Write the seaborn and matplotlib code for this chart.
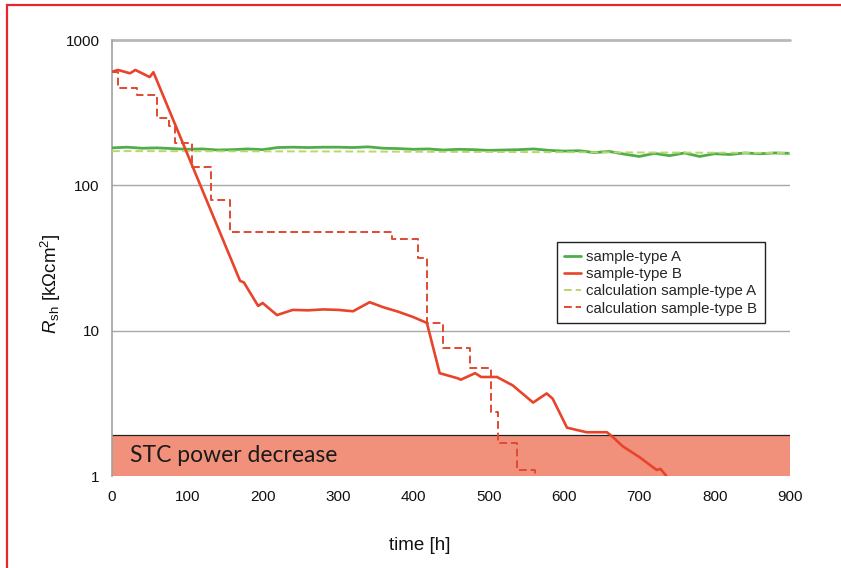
import matplotlib
matplotlib.use("Agg")
import matplotlib.pyplot as plt
import matplotlib.patches as mpatches
import numpy as np
import pandas as pd
import seaborn as sns

# ---------------- data ----------------
a_hours = [0, 20, 40, 60, 80, 100, 120, 140, 160, 180, 200, 220, 240, 260, 280, 300,
           320, 340, 360, 380, 400, 420, 440, 460, 480, 500, 520, 540, 560, 580, 600,
           620, 640, 660, 680, 700, 720, 740, 760, 780, 800, 820, 840, 860, 880, 900]
a_meas = [181, 183, 180, 181, 179, 177, 178, 175, 176, 178, 176, 182, 183, 182, 183, 183,
          182, 184, 180, 179, 177, 178, 175, 177, 176, 174, 175, 176, 178, 174, 172,
          173, 168, 171, 164, 158, 166, 160, 167, 158, 165, 163, 167, 165, 167, 166]

a_calc_hours = [0, 300, 600, 900]
a_calc = [172, 171, 169, 167]

b_hours = [0, 8, 24, 31, 50, 55, 170, 175, 194, 200, 219, 240, 260, 280, 300, 320,
           342, 360, 380, 400, 418, 435, 459, 463, 482, 490, 511, 532, 559, 577, 585,
           604, 630, 657, 665, 678, 700, 723, 728, 736]
b_meas = [605, 622, 590, 622, 556, 600, 22, 21.5, 14.8, 15.5, 12.8, 13.9, 13.8, 14.0,
          13.9, 13.6, 15.7, 14.5, 13.5, 12.4, 11.3, 5.1, 4.7, 4.6, 5.1, 4.8, 4.8, 4.2,
          3.2, 3.7, 3.4, 2.15, 2.0, 2.0, 1.85, 1.6, 1.35, 1.1, 1.12, 1.0]

b_calc_hours = [0, 8, 33, 60, 75, 83, 106, 132, 156, 372, 406, 418, 440, 475, 503,
                513, 538, 562]
b_calc = [600, 468, 418, 290, 258, 196, 134, 79, 47.7, 42.8, 31.6, 11.3, 7.6, 5.5,
          2.75, 1.7, 1.1, 1.0]

stc_limit = 1.9
x_ticks = [0, 100, 200, 300, 400, 500, 600, 700, 800, 900]
y_ticks = [1, 10, 100, 1000]
y_ticklabels = ["1", "10", "100", "1000"]

labels = ["sample-type A", "sample-type B",
          "calculation sample-type A", "calculation sample-type B"]

# ---------------- style ----------------
sns.set_style("white")
plt.rcParams["font.family"] = ["Liberation Sans", "DejaVu Sans"]
plt.rcParams["mathtext.fontset"] = "custom"
plt.rcParams["mathtext.rm"] = "Liberation Sans"
plt.rcParams["mathtext.it"] = "Liberation Sans:italic"

fig = plt.figure(figsize=(8.41, 5.68), dpi=100)
ax = fig.add_axes([112 / 841, 1 - 476 / 568, 678 / 841, 436 / 568])

green = "#4fae4a"
green_calc = "#b9d76c"
red = "#e8442b"
red_calc = "#e04a33"

dfA = pd.DataFrame({"t": a_hours, "r": a_meas})
dfAc = pd.DataFrame({"t": a_calc_hours, "r": a_calc})
dfB = pd.DataFrame({"t": b_hours, "r": b_meas})
dfBc = pd.DataFrame({"t": b_calc_hours, "r": b_calc})

sns.lineplot(data=dfA, x="t", y="r", ax=ax, color=green, lw=2.0, zorder=4,
             label=labels[0], estimator=None, sort=False)
sns.lineplot(data=dfB, x="t", y="r", ax=ax, color=red, lw=1.9, zorder=5,
             label=labels[1], estimator=None, sort=False)
sns.lineplot(data=dfAc, x="t", y="r", ax=ax, color=green_calc, lw=1.4, zorder=4.5,
             label=labels[2], estimator=None, sort=False, linestyle=(0, (4, 2)))
sns.lineplot(data=dfBc, x="t", y="r", ax=ax, color=red_calc, lw=1.4, zorder=5,
             label=labels[3], estimator=None, sort=False, linestyle=(0, (4, 2)),
             drawstyle="steps-post")

ax.set_yscale("log")
ax.set_xlim(0, 900)
ax.set_ylim(1, 1000)

# STC region
ax.axhspan(1, stc_limit, color="#f2917b", zorder=1, lw=0)
ax.axhline(stc_limit, color="#222222", lw=0.9, zorder=2)
ax.text(24, np.sqrt(stc_limit), "STC power decrease", fontsize=16.5,
        family=["Lato", "DejaVu Sans"], va="center", ha="left", color="#1a1a1a",
        zorder=3)

# grid
for yv in [10, 100]:
    ax.axhline(yv, color="#a8a8a8", lw=1.0, zorder=0.5)
ax.axhline(1000, color="#b8b8b8", lw=2.0, zorder=0.5, clip_on=False)

for s in ["top", "right", "bottom"]:
    ax.spines[s].set_visible(False)
ax.spines["left"].set_color("#a0a0a0")
ax.spines["left"].set_linewidth(1.2)

ax.set_xticks(x_ticks)
ax.set_xticklabels([str(v) for v in x_ticks])
ax.set_yticks(y_ticks)
ax.set_yticklabels(y_ticklabels)
ax.yaxis.set_minor_locator(matplotlib.ticker.NullLocator())
ax.tick_params(axis="both", length=0, labelsize=11, colors="#111111")
ax.tick_params(axis="x", pad=10)
ax.tick_params(axis="y", pad=9)

ax.set_xlabel("time [h]", fontsize=13.5, color="#111111")
ax.set_ylabel(r"$\mathit{R}_{\mathrm{sh}}$ [kΩcm$^2$]", fontsize=13.5, color="#111111")
ax.xaxis.set_label_coords(0.454, -0.14)
ax.yaxis.set_label_coords(-0.072, 0.44)

handles, _ = ax.get_legend_handles_labels()
leg = ax.legend(handles, labels, loc="upper left", bbox_to_anchor=(0.656, 0.536),
                fontsize=10.8, frameon=True, fancybox=False, edgecolor="#222222",
                framealpha=1, handlelength=1.1, handletextpad=0.35, labelspacing=0.22,
                borderpad=0.5, borderaxespad=0)
leg.get_frame().set_linewidth(1.0)
leg.set_zorder(10)

# red frame around figure (top & left visible)
fig.patches.append(mpatches.Rectangle((7 / 841, -0.1), 1.2, 1 - 5 / 568 + 0.1,
                                      transform=fig.transFigure, fill=False,
                                      edgecolor="#e8262e", lw=1.6))

fig.savefig("out.png", dpi=100)
